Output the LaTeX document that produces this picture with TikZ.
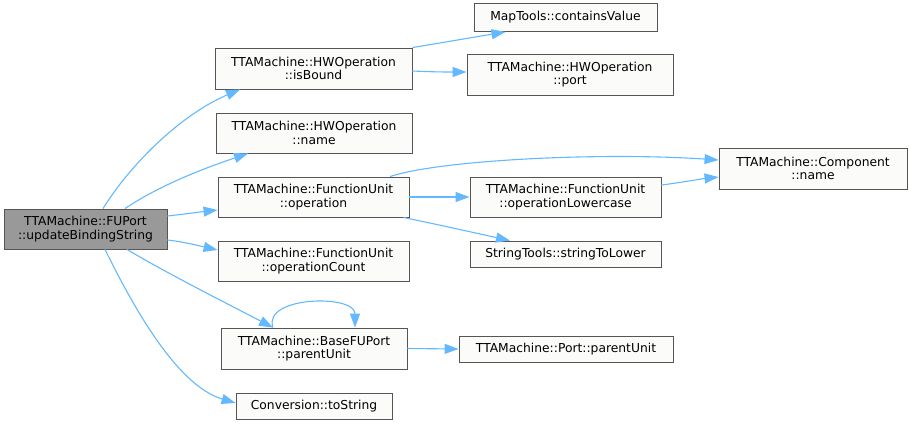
\documentclass[tikz,border=0pt]{standalone}
\usepackage{fontspec}
\setmainfont{DejaVu Sans}
\usetikzlibrary{arrows.meta}
\definecolor{edgeblue}{HTML}{63B8FF}
\definecolor{boxborder}{HTML}{555555}
\definecolor{mainfill}{HTML}{999999}
\definecolor{boxfill}{HTML}{FBFCFA}
\begin{document}
\begin{tikzpicture}[x=1pt,y=-1pt,
  box/.style={draw=boxborder, fill=boxfill, line width=0.9pt, align=center, inner sep=0pt,
    font=\fontsize{12.3}{13.5}\selectfont},
  mainbox/.style={box, fill=mainfill},
  edge/.style={draw=edgeblue, line width=1.1pt, -{Triangle[length=14pt,width=10pt]}}
]
\useasboundingbox (0,0) rectangle (909,424);
% nodes
\node[mainbox, minimum width=163pt, minimum height=40pt] (main) at (85.5,229) {TTAMachine::FUPort\\::updateBindingString};
\node[box, minimum width=197pt, minimum height=41pt] (isBound) at (313.5,68.5) {TTAMachine::HWOperation\\::isBound};
\node[box, minimum width=183pt, minimum height=28pt] (contains) at (565.5,17.5) {MapTools::containsValue};
\node[box, minimum width=206pt, minimum height=41pt] (port) at (570,74.5) {TTAMachine::HWOperation\\::port};
\node[box, minimum width=196pt, minimum height=40pt] (hwname) at (314,133) {TTAMachine::HWOperation\\::name};
\node[box, minimum width=191pt, minimum height=40pt] (operation) at (313.5,197) {TTAMachine::FunctionUnit\\::operation};
\node[box, minimum width=191pt, minimum height=40pt] (opCount) at (313.5,261) {TTAMachine::FunctionUnit\\::operationCount};
\node[box, minimum width=191pt, minimum height=40pt] (opLower) at (565.5,197) {TTAMachine::FunctionUnit\\::operationLowercase};
\node[box, minimum width=191pt, minimum height=26pt] (strLower) at (565.5,254) {StringTools::stringToLower};
\node[box, minimum width=188pt, minimum height=41pt] (compName) at (813,168.5) {TTAMachine::Component\\::name};
\node[box, minimum width=186pt, minimum height=41pt] (baseFU) at (314,348.5) {TTAMachine::BaseFUPort\\::parentUnit};
\node[box, minimum width=214pt, minimum height=26pt] (portParent) at (566,349) {TTAMachine::Port::parentUnit};
\node[box, minimum width=156pt, minimum height=26pt] (toString) at (314,406) {Conversion::toString};
% edges from main
\draw[edge] ([xshift=17.5pt]main.north) .. controls (130,165) and (180,115) .. ([xshift=-73.5pt]isBound.south);
\draw[edge] ([xshift=39.5pt]main.north) .. controls (160,185) and (205,168) .. ([xshift=-66pt]hwname.south);
\draw[edge] ([yshift=13pt]main.east) .. controls (185,214) and (200,212) .. ([yshift=-13pt]operation.west);
\draw[edge] ([yshift=-11pt]main.east) .. controls (185,242) and (200,246) .. ([yshift=11pt]opCount.west);
\draw[edge] ([xshift=41.5pt]main.south) .. controls (170,275) and (230,305) .. ([xshift=-41pt]baseFU.north);
\draw[edge] ([xshift=19.5pt]main.south) .. controls (130,300) and (175,385) .. ([yshift=3pt]toString.west);
% edges from isBound
\draw[edge] (isBound.north east) .. controls (440,43) and (475,37) .. ([xshift=-60pt]contains.south);
\draw[edge] ([yshift=-2.5pt]isBound.east) .. controls (435,72) and (445,72) .. ([yshift=2.5pt]port.west);
% edges from operation
\draw[edge] ([xshift=76.5pt]operation.north) .. controls (440,160) and (600,152) .. ([yshift=8.5pt]compName.west);
\draw[edge] (operation.east) -- (opLower.west);
\draw[edge] ([xshift=-6pt]operation.south east) .. controls (440,225) and (480,234) .. ([xshift=-55.5pt]strLower.north);
\draw[edge] ([yshift=12pt]opLower.east) .. controls (685,182) and (700,179) .. ([yshift=-8.5pt]compName.west);
% baseFU
\draw[edge] ([xshift=-41pt]baseFU.north) .. controls (262,296) and (355,294) .. ([xshift=41pt]baseFU.north);
\draw[edge] (baseFU.east) -- (portParent.west);
\end{tikzpicture}
\end{document}
